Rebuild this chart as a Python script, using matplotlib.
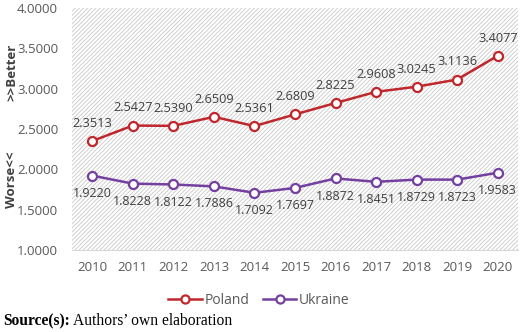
import matplotlib
matplotlib.use("Agg")
import matplotlib.pyplot as plt
import numpy as np

years = [2010, 2011, 2012, 2013, 2014, 2015, 2016, 2017, 2018, 2019, 2020]
poland = [2.3513, 2.5427, 2.5390, 2.6509, 2.5361, 2.6809, 2.8225, 2.9608, 3.0245, 3.1136, 3.4077]
ukraine = [1.9220, 1.8228, 1.8122, 1.7886, 1.7092, 1.7697, 1.8872, 1.8451, 1.8729, 1.8723, 1.9583]
yticks = [1.0, 1.5, 2.0, 2.5, 3.0, 3.5, 4.0]

plt.rcParams['font.family'] = ['Open Sans', 'DejaVu Sans']
plt.rcParams['hatch.linewidth'] = 0.6

fig = plt.figure(figsize=(5.2, 3.32), dpi=100)
ax = fig.add_axes([72/520, 1 - 250/332, 446/520, 242/332])

ax.set_facecolor('white')
ax.add_patch(plt.Rectangle((0, 0), 1, 1, transform=ax.transAxes, facecolor='white',
                           edgecolor='#c8c8c8', hatch='////////', linewidth=0, zorder=0))

x = np.arange(len(years))
red = '#C0272D'
purple = '#7440A0'
ax.plot(x, poland, color=red, lw=1.8, marker='o', ms=6.5, mfc='white', mec=red, mew=1.6,
        label='Poland', zorder=3)
ax.plot(x, ukraine, color=purple, lw=1.8, marker='o', ms=6.5, mfc='white', mec=purple, mew=1.6,
        label='Ukraine', zorder=3)

for xi, v in zip(x, poland):
    ax.annotate(f"{v:.4f}", (xi, v), xytext=(0, 8), textcoords='offset points',
                ha='center', va='bottom', fontsize=9.2, color='#404040')
for xi, v in zip(x, ukraine):
    ax.annotate(f"{v:.4f}", (xi, v), xytext=(0, -8), textcoords='offset points',
                ha='center', va='top', fontsize=9.0, color='#404040')

ax.set_xlim(-0.5, len(years) - 0.5)
ax.set_ylim(1.0, 4.0)
ax.set_yticks(yticks)
ax.set_yticklabels([f"{t:.4f}" for t in yticks])
ax.set_xticks(x)
ax.set_xticklabels([str(y) for y in years])
ax.tick_params(axis='both', length=0, labelsize=9.5, colors='#595959')
ax.tick_params(axis='x', pad=8)
ax.tick_params(axis='y', pad=10)
for s in ax.spines.values():
    s.set_visible(False)
ax.spines['bottom'].set_visible(True)
ax.spines['bottom'].set_color('#d9d9d9')

fig.text(12/520, 1 - 180/332, 'Worse<<', rotation=90, ha='center', va='center',
         fontsize=9.5, fontweight='bold', color='#404040')
fig.text(12/520, 1 - 72/332, '>>Better', rotation=90, ha='center', va='center',
         fontsize=9.5, fontweight='bold', color='#404040')

leg = fig.legend(loc='center', bbox_to_anchor=(259/520, 1 - 300/332), ncol=2, frameon=False,
                 fontsize=10, handlelength=2.4, columnspacing=1.0, handletextpad=0.2,
                 markerscale=0.9)
for t in leg.get_texts():
    t.set_color('#595959')

fig.text(3/520, 1 - 321/332, 'Source(s):', fontfamily='Liberation Serif', fontweight='bold',
         fontsize=11.2, ha='left', va='center', color='black')
fig.text(73/520, 1 - 321/332, 'Authors\u2019 own elaboration', fontfamily='Liberation Serif',
         fontsize=11.2, ha='left', va='center', color='black')

fig.savefig('out.png', dpi=100)
